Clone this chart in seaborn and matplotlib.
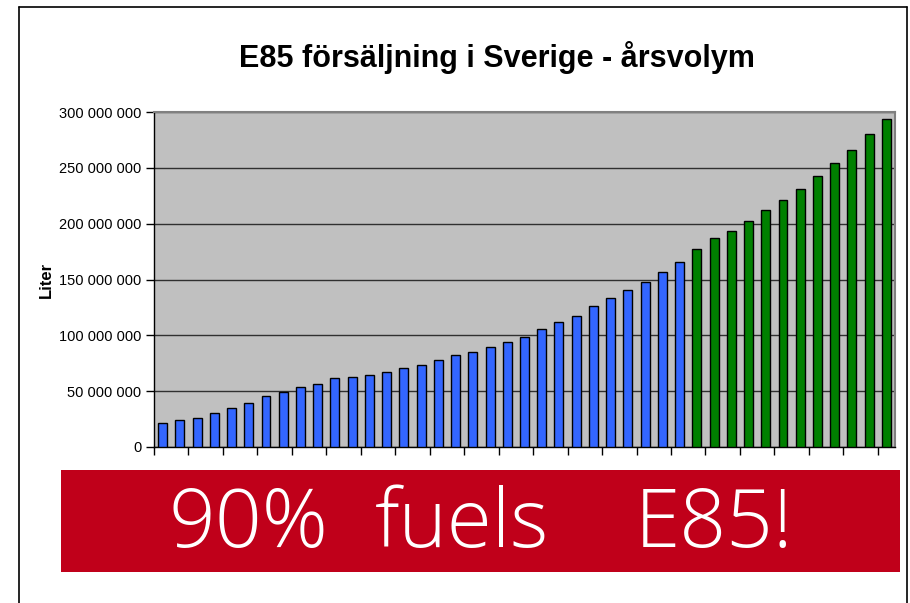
import matplotlib
matplotlib.use("Agg")
import matplotlib.pyplot as plt
from matplotlib import font_manager
from matplotlib.patches import Rectangle
import seaborn as sns
import pandas as pd

# data (liter)
blue_values = [21.5, 24.5, 26.0, 30.5, 35.0, 39.5, 45.5, 49.4, 54.1, 56.8, 61.6,
               63.1, 64.6, 67.3, 70.3, 73.3, 77.8, 82.3, 85.0, 89.4, 93.9, 98.1,
               105.6, 111.6, 117.3, 126.2, 133.4, 140.9, 148.1, 157.0, 166.0]
green_values = [177.7, 187.0, 193.8, 202.8, 211.8, 220.8, 230.9, 242.6, 254.6,
                266.2, 280.0, 294.0]
y_ticks = [0, 50, 100, 150, 200, 250, 300]
title = "E85 försäljning i Sverige - årsvolym"
banner_words = ["90%", "fuels", "E85!"]

names = {f.name for f in font_manager.fontManager.ttflist}
narrow = "Liberation Sans Narrow" if "Liberation Sans Narrow" in names else "Liberation Sans"

values = [v * 1e6 for v in blue_values + green_values]
period = ["hist"] * len(blue_values) + ["prog"] * len(green_values)
df = pd.DataFrame({"idx": range(len(values)), "liter": values, "period": period})

sns.set_style("white")
plt.rcParams["font.family"] = ["Liberation Sans", "DejaVu Sans"]
plt.rcParams["text.color"] = "black"
plt.rcParams["axes.labelcolor"] = "black"
plt.rcParams["ytick.color"] = "black"
plt.rcParams["xtick.color"] = "black"

fig = plt.figure(figsize=(9.1, 6.03), dpi=100)
W, H = 910, 603
ax = fig.add_axes([154 / W, (H - 447) / H, (895 - 154) / W, (447 - 112) / H])
ax.set_facecolor("#c0c0c0")

sns.barplot(data=df, x="idx", y="liter", hue="period",
            palette={"hist": "#3366ff", "prog": "#008000"}, dodge=False,
            saturation=1, width=0.52, edgecolor="black", linewidth=1,
            legend=False, ax=ax, zorder=3)

n = len(values)
ax.set_xlim(-0.5, n - 0.5)
ax.set_ylim(0, 300e6)
ax.set_yticks([t * 1e6 for t in y_ticks])
ax.set_yticklabels(["0" if t == 0 else f"{t * 1000000:,}".replace(",", " ") for t in y_ticks],
                   fontsize=10.5, family=[narrow, "DejaVu Sans"])
ax.set_xticks([i - 0.5 for i in range(0, n, 2)])
ax.set_xticklabels([])
ax.tick_params(axis="both", direction="out", length=6, width=1, color="black",
               left=True, bottom=True, pad=3)
ax.yaxis.grid(True, color="#303030", linewidth=1, zorder=1)
ax.set_axisbelow(True)
ax.set_xlabel("")
ax.set_ylabel("Liter", fontsize=12, fontweight="bold")
ax.yaxis.set_label_coords(-0.135, 0.5)

for side in ["top", "right"]:
    ax.spines[side].set_color("#808080")
    ax.spines[side].set_linewidth(1.5)
for side in ["left", "bottom"]:
    ax.spines[side].set_color("black")
    ax.spines[side].set_linewidth(1)

fig.text(497 / W, 1 - 57 / H, title, ha="center", va="center",
         fontsize=22, fontweight="bold")

# outer frame (open at the bottom)
frame = dict(color="black", lw=1.2, transform=fig.transFigure)
fig.add_artist(plt.Line2D([19 / W, 19 / W], [0, 1 - 7 / H], **frame))
fig.add_artist(plt.Line2D([19 / W, 907 / W], [1 - 7 / H, 1 - 7 / H], **frame))
fig.add_artist(plt.Line2D([907 / W, 907 / W], [0, 1 - 7 / H], **frame))

# red banner
fig.add_artist(Rectangle((61 / W, 1 - 572 / H), (900 - 61) / W, (572 - 470) / H,
                         facecolor="#c0001a", edgecolor="none",
                         transform=fig.transFigure))
for word, xc in zip(banner_words, [248, 462, 714]):
    fig.text(xc / W, 1 - 526 / H, word, ha="center", va="center", color="white",
             fontsize=59, fontweight="light", family=["Open Sans", "DejaVu Sans"])

fig.savefig("out.png", dpi=100)
